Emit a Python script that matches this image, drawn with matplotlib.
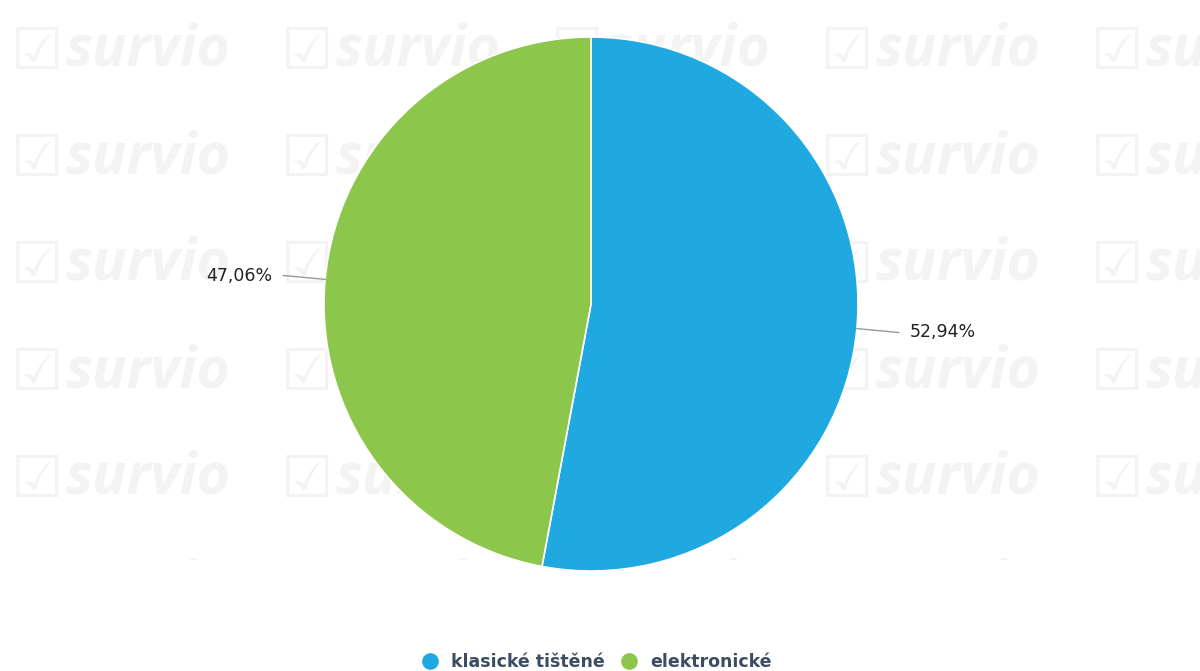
import matplotlib.pyplot as plt
from matplotlib.lines import Line2D
from matplotlib.patches import Rectangle
import numpy as np

# data
labels = ['klasické tištěné', 'elektronické']
values = [52.94, 47.06]
colors = ['#20a9e1', '#8cc64a']

W, H = 1200, 671
fig = plt.figure(figsize=(12, 6.71), dpi=100, facecolor='white')
ax = fig.add_axes([0, 0, 1, 1])
ax.set_xlim(0, W)
ax.set_ylim(0, H)
ax.set_aspect('equal')
ax.axis('off')

# watermark grid (cut off below y=560 px)
wm = '#f3f3f3'
for cx in [13, 283, 553, 823, 1093]:
    for cy in [15, 122, 229, 336, 443, 550]:
        ax.text(cx - 2, H - cy - 54, '\u2611', fontsize=42, color=wm,
                fontweight='bold', ha='left', va='baseline',
                family='DejaVu Sans', zorder=0)
        ax.text(cx + 52, H - cy - 51, 'survio', fontsize=41, color=wm,
                fontweight='bold', style='italic', family='Open Sans',
                ha='left', va='baseline', zorder=0)
ax.add_patch(Rectangle((0, 0), W, H - 560, facecolor='white',
                       edgecolor='none', zorder=1))

# pie
cx, cy, r = 591, H - 304, 267
wedges, _ = ax.pie(values, colors=colors, startangle=90, counterclock=False,
                   center=(cx, cy), radius=r, frame=True,
                   wedgeprops=dict(edgecolor='white', linewidth=1.2))
ax.set_xlim(0, W)
ax.set_ylim(0, H)
ax.axis('off')
for w in wedges:
    w.set_zorder(2)

# data labels with leader lines
for w, v in zip(wedges, values):
    ang = np.deg2rad((w.theta1 + w.theta2) / 2)
    x0, y0 = cx + r * np.cos(ang), cy + r * np.sin(ang)
    x1, y1 = cx + (r + 42) * np.cos(ang), cy + (r + 42) * np.sin(ang)
    ax.plot([x0, x1], [y0, y1], color='#999999', linewidth=1, zorder=3)
    side = 1 if np.cos(ang) > 0 else -1
    ax.text(x1 + side * 11, y1, f'{v:.2f}%'.replace('.', ','), fontsize=12.5,
            color='#222222', ha='left' if side > 0 else 'right', va='center',
            family='DejaVu Sans', zorder=3)

# legend
handles = [Line2D([], [], marker='o', linestyle='none', markersize=11,
                  markerfacecolor=c, markeredgecolor=c) for c in colors]
leg = ax.legend(handles, labels, loc='center', bbox_to_anchor=(592 / W, 9 / H),
                ncol=2, frameon=False, handletextpad=0.2, columnspacing=0.4,
                prop=dict(family='DejaVu Sans', weight='semibold', size=12.5))
for t in leg.get_texts():
    t.set_color('#3b4d61')

plt.savefig('out.png', dpi=100, facecolor='white')
